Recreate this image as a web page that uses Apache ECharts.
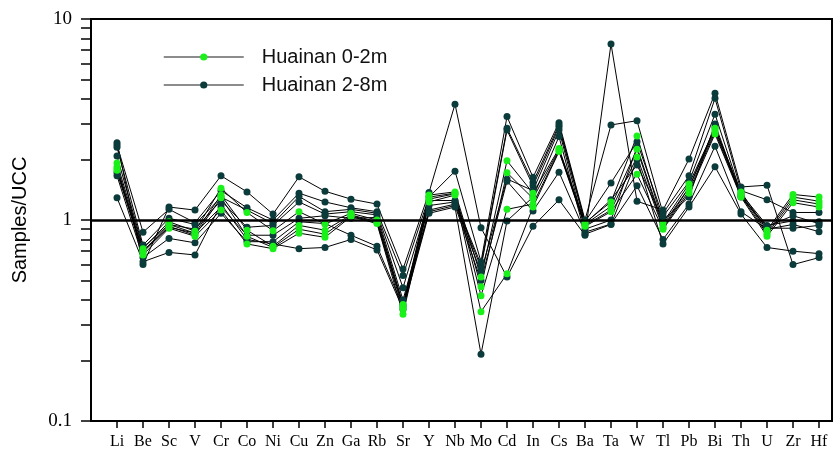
<!DOCTYPE html>
<html>
<head>
<meta charset="utf-8">
<script src="https://cdn.jsdelivr.net/npm/echarts@6/dist/echarts.min.js"></script>
<style>
  html, body { margin: 0; padding: 0; background: #fff; }
  #chart { width: 833px; height: 459px; }
</style>
</head>
<body>
<div id="chart"></div>
<script>
// element categories
var elements = ['Li', 'Be', 'Sc', 'V', 'Cr', 'Co', 'Ni', 'Cu', 'Zn', 'Ga', 'Rb', 'Sr', 'Y', 'Nb', 'Mo',
  'Cd', 'In', 'Cs', 'Ba', 'Ta', 'W', 'Tl', 'Pb', 'Bi', 'Th', 'U', 'Zr', 'Hf'];

// Huainan 0-2m samples (normalised to UCC)
var g1 = [1.92, 0.72, 0.98, 0.88, 1.44, 1.09, 0.885, 1.10, 0.955, 1.08, 1.00, 0.38, 1.33, 1.38, 0.52, 1.97, 1.36, 2.27, 0.97, 1.23, 2.62, 0.97, 1.51, 2.86, 1.38, 0.89, 1.34, 1.30];
var g2 = [1.84, 0.70, 0.95, 0.86, 1.33, 0.89, 0.74, 0.94, 0.89, 1.06, 0.98, 0.37, 1.30, 1.36, 0.466, 1.72, 1.28, 2.24, 0.95, 1.17, 2.25, 0.92, 1.45, 2.80, 1.35, 0.87, 1.30, 1.24];
var g3 = [1.80, 0.69, 0.93, 0.84, 1.29, 0.83, 0.73, 0.90, 0.85, 1.05, 0.97, 0.36, 1.27, 1.35, 0.42, 1.13, 1.20, 2.21, 0.94, 1.12, 2.06, 0.91, 1.40, 2.74, 1.32, 0.85, 1.26, 1.20];
var g4 = [1.77, 0.67, 0.91, 0.83, 1.12, 0.76, 0.72, 0.86, 0.82, 1.04, 0.96, 0.34, 1.23, 1.33, 0.35, 0.54, 1.16, 2.19, 0.93, 1.10, 1.69, 0.90, 1.36, 2.68, 1.30, 0.83, 1.22, 1.16];

// Huainan 2-8m samples
var d1 = [2.42, 0.60, 1.16, 1.12, 1.66, 1.38, 1.07, 1.64, 1.39, 1.27, 1.20, 0.57, 1.37, 3.77, 0.915, 0.52, 0.93, 1.26, 0.84, 7.52, 1.24, 1.12, 2.01, 4.27, 1.46, 1.49, 0.60, 0.65];
var d2 = [2.36, 0.87, 1.13, 0.97, 1.40, 1.15, 1.00, 1.36, 1.23, 1.15, 1.10, 0.53, 1.30, 1.75, 0.62, 3.27, 1.63, 3.05, 1.00, 2.97, 3.12, 1.08, 1.66, 4.03, 1.40, 1.26, 1.09, 1.09];
var d3 = [2.30, 0.75, 1.02, 0.95, 1.30, 1.12, 0.96, 1.31, 1.10, 1.13, 1.08, 0.46, 1.25, 1.25, 0.60, 2.86, 1.54, 2.97, 0.98, 1.53, 2.45, 1.04, 1.55, 3.36, 1.35, 0.94, 0.99, 0.98];
var d4 = [2.08, 0.73, 0.95, 0.90, 1.25, 0.92, 0.94, 1.23, 1.07, 1.10, 1.06, 0.40, 1.18, 1.23, 0.58, 2.80, 1.48, 2.90, 0.96, 1.26, 1.88, 1.00, 1.30, 3.00, 1.32, 0.91, 0.91, 0.94];
var d5 = [1.72, 0.70, 0.92, 0.86, 1.16, 0.84, 0.84, 1.02, 1.05, 1.02, 1.03, 0.38, 1.12, 1.20, 0.55, 1.60, 1.40, 2.80, 0.90, 1.00, 2.30, 0.95, 1.45, 2.90, 1.30, 0.93, 1.05, 0.96];
var d6 = [1.66, 0.65, 0.81, 0.77, 1.08, 0.78, 0.78, 0.98, 0.96, 0.84, 0.74, 0.37, 1.10, 1.18, 0.50, 1.56, 1.11, 1.73, 0.87, 0.955, 1.48, 0.80, 1.20, 2.33, 1.10, 0.90, 0.95, 0.875];
var d7 = [1.29, 0.62, 0.69, 0.67, 1.20, 0.80, 0.76, 0.72, 0.73, 0.80, 0.71, 0.36, 1.08, 1.16, 0.215, 0.99, 1.30, 2.60, 0.85, 0.95, 2.00, 0.76, 1.16, 1.84, 1.07, 0.73, 0.70, 0.68];

// y axis ticks / labels
var yTicks = [0.1, 0.2, 0.3, 0.4, 0.5, 0.6, 0.7, 0.8, 0.9, 1, 2, 3, 4, 5, 6, 7, 8, 9, 10];
var yLabels = [0.1, 1, 10];

var shallowName = 'Huainan 0-2m';
var deepName = 'Huainan 2-8m';
var green = '#1af01a';
var dark = '#0b3b3b';

function makeSeries(name, color, values) {
  return {
    name: name,
    type: 'line',
    symbol: 'circle',
    symbolSize: 7,
    itemStyle: { color: color },
    lineStyle: { color: '#000', width: 1 },
    data: values.map(function (v, i) { return [i, v]; })
  };
}

var series = [];
[d1, d2, d3, d4, d5, d6, d7].forEach(function (d) { series.push(makeSeries(deepName, dark, d)); });
[g1, g2, g3, g4].forEach(function (g) { series.push(makeSeries(shallowName, green, g)); });

// 参考线 y = 1
series[0].markLine = {
  silent: true,
  symbol: 'none',
  label: { show: false },
  lineStyle: { color: '#000', width: 2.5, type: 'solid' },
  data: [{ yAxis: 1 }]
};

var xIdx = elements.map(function (e, i) { return i; });

var myChart = echarts.init(document.getElementById('chart'));
myChart.setOption({
  animation: false,
  grid: {
    left: 91, top: 19, right: 1, bottom: 38,
    outerBoundsMode: 'none',
    show: true, borderColor: '#000', borderWidth: 2
  },
  legend: {
    data: [shallowName, deepName],
    orient: 'vertical',
    left: 163,
    top: 47,
    padding: 0,
    itemWidth: 80,
    itemHeight: 9,
    itemGap: 8,
    lineStyle: { color: '#666', width: 1.5 },
    textStyle: {
      fontFamily: 'Liberation Sans', fontSize: 20, color: '#111',
      padding: [0, 0, 0, 13]
    }
  },
  xAxis: {
    type: 'value',
    min: -1,
    max: 27.5,
    splitLine: { show: false },
    axisLine: { lineStyle: { color: '#000', width: 2 } },
    axisTick: {
      customValues: xIdx,
      length: 7,
      lineStyle: { color: '#000', width: 1.5 }
    },
    axisLabel: {
      customValues: xIdx,
      formatter: function (v) { return elements[Math.round(v)] || ''; },
      fontFamily: 'Liberation Serif',
      fontSize: 16,
      color: '#000',
      margin: 13
    }
  },
  yAxis: {
    type: 'log',
    logBase: 10,
    min: 0.1,
    max: 10,
    name: 'Samples/UCC',
    nameLocation: 'middle',
    nameGap: 61,
    nameTextStyle: { fontFamily: 'Liberation Sans', fontSize: 20, color: '#000' },
    splitLine: { show: false },
    axisLine: { onZero: false, lineStyle: { color: '#000', width: 2 } },
    axisTick: {
      customValues: yTicks,
      length: 10,
      lineStyle: { color: '#000', width: 1.5 }
    },
    axisLabel: {
      customValues: yLabels,
      formatter: function (v) { return String(v); },
      fontFamily: 'Liberation Serif',
      fontSize: 19,
      color: '#000',
      margin: 19
    }
  },
  series: series
});
</script>
</body>
</html>
